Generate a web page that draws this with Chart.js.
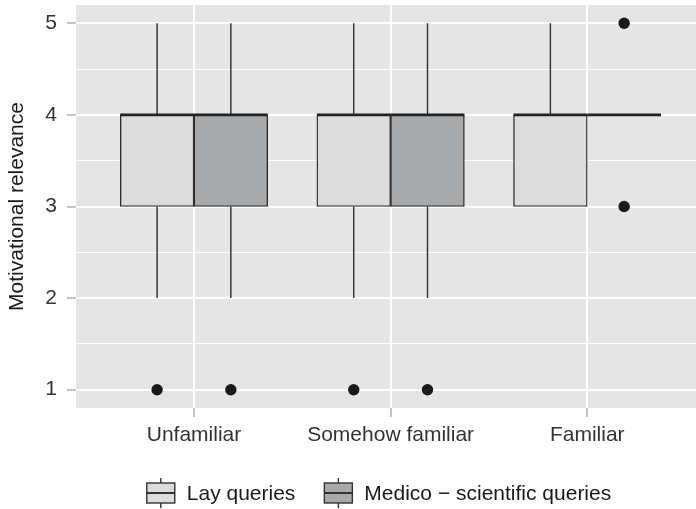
<!DOCTYPE html>
<html>
<head>
<meta charset="utf-8">
<title>Motivational relevance</title>
<script src="https://cdn.jsdelivr.net/npm/chart.js@4/dist/chart.umd.min.js"></script>
<style>
  body { margin: 0; background: #fff; }
  #wrap { width: 696px; height: 509px; position: relative; }
</style>
</head>
<body>
<div id="wrap"><canvas id="boxChart"></canvas></div>
<script>
// --- Data ---
const categories = ["Unfamiliar", "Somehow familiar", "Familiar"];
const groups = ["Lay queries", "Medico \u2212 scientific queries"];

// lay queries: whisker ends, quartiles, median, outliers
const layLow = [2, 2, 3];
const layQ1 = [3, 3, 3];
const layMedian = [4, 4, 4];
const layQ3 = [4, 4, 4];
const layHigh = [5, 5, 5];
const layOutliers = [[1], [1], []];

// medico-scientific queries
const medLow = [2, 2, 4];
const medQ1 = [3, 3, 4];
const medMedian = [4, 4, 4];
const medQ3 = [4, 4, 4];
const medHigh = [5, 5, 4];
const medOutliers = [[1], [1], [5, 3]];

const yTicks = [1, 2, 3, 4, 5];
const yMinorTicks = [1.5, 2.5, 3.5, 4.5];

const groupColors = ["#dcdcdd", "#a8a9ab"];
const dodge = 0.1875; // half of the dodge width (0.75 / 2 / 2)

// --- Builders for the datasets ---
function boxData(off, q1, q3) {
  return categories.map((c, i) => ({ x: i + 1 + off, y: [q1[i], q3[i]] }));
}

function whiskerData(off, low, q1, q3, high) {
  const pts = [];
  categories.forEach((c, i) => {
    const x = i + 1 + off;
    pts.push({ x: x, y: q3[i] }, { x: x, y: high[i] }, { x: x, y: null });
    pts.push({ x: x, y: q1[i] }, { x: x, y: low[i] }, { x: x, y: null });
  });
  return pts;
}

function medianData(off, med) {
  const pts = [];
  categories.forEach((c, i) => {
    const x = i + 1 + off;
    pts.push({ x: x - dodge, y: med[i] }, { x: x + dodge, y: med[i] }, { x: x, y: null });
  });
  return pts;
}

function outlierData(off, outs) {
  const pts = [];
  outs.forEach((list, i) => list.forEach((v) => pts.push({ x: i + 1 + off, y: v })));
  return pts;
}

// --- Plugins: panel background and boxplot legend ---
const panelBackground = {
  id: "panelBackground",
  beforeDraw(chart) {
    const { ctx, chartArea: a } = chart;
    ctx.save();
    ctx.fillStyle = "#e5e5e5";
    ctx.fillRect(a.left, a.top, a.right - a.left, a.bottom - a.top);
    ctx.restore();
  },
};

const boxLegend = {
  id: "boxLegend",
  afterDraw(chart) {
    const ctx = chart.ctx;
    const keyW = 28, keyH = 20, gap = 12, itemGap = 29;
    const cy = 493;
    ctx.save();
    ctx.font = '21px "Liberation Sans", Arial, sans-serif';
    const widths = groups.map((g) => keyW + gap + ctx.measureText(g).width);
    const total = widths.reduce((a, b) => a + b, 0) + itemGap * (groups.length - 1);
    let x = 379 - total / 2;
    groups.forEach((g, i) => {
      const top = cy - keyH / 2;
      ctx.strokeStyle = "#333";
      ctx.lineWidth = 1.4;
      // whisker stubs
      ctx.beginPath();
      ctx.moveTo(x + keyW / 2, top - 5);
      ctx.lineTo(x + keyW / 2, top);
      ctx.moveTo(x + keyW / 2, top + keyH);
      ctx.lineTo(x + keyW / 2, top + keyH + 5);
      ctx.stroke();
      // box
      ctx.fillStyle = groupColors[i];
      ctx.fillRect(x, top, keyW, keyH);
      ctx.strokeRect(x, top, keyW, keyH);
      // median
      ctx.lineWidth = 2;
      ctx.beginPath();
      ctx.moveTo(x, cy);
      ctx.lineTo(x + keyW, cy);
      ctx.stroke();
      // label
      ctx.fillStyle = "#1a1a1a";
      ctx.textBaseline = "middle";
      ctx.textAlign = "left";
      ctx.fillText(g, x + keyW + gap, cy + 1);
      x += widths[i] + itemGap;
    });
    ctx.restore();
  },
};

// --- Chart ---
document.addEventListener("DOMContentLoaded", () => {
  const ctx = document.getElementById("boxChart");
  const font = { family: '"Liberation Sans", Arial, sans-serif', size: 21 };

  const boxBase = {
    type: "bar",
    borderColor: "#2e2e2e",
    borderWidth: 1.4,
    borderSkipped: false,
    grouped: false,
    barPercentage: 1,
    categoryPercentage: 1,
    order: 3,
  };
  const whiskerBase = {
    type: "line",
    borderColor: "#2e2e2e",
    borderWidth: 1.4,
    pointRadius: 0,
    spanGaps: false,
    order: 4,
  };
  const medianBase = {
    type: "line",
    borderColor: "#222222",
    borderWidth: 2.6,
    borderCapStyle: "butt",
    pointRadius: 0,
    spanGaps: false,
    order: 1,
  };
  const outlierBase = {
    type: "scatter",
    backgroundColor: "#1a1a1a",
    borderWidth: 0,
    pointRadius: 5.7,
    order: 0,
  };

  new Chart(ctx, {
    type: "bar",
    data: {
      datasets: [
        { ...boxBase, label: groups[0], data: boxData(-dodge, layQ1, layQ3), backgroundColor: groupColors[0] },
        { ...boxBase, label: groups[1], data: boxData(dodge, medQ1, medQ3), backgroundColor: groupColors[1] },
        { ...whiskerBase, label: groups[0] + " whiskers", data: whiskerData(-dodge, layLow, layQ1, layQ3, layHigh) },
        { ...whiskerBase, label: groups[1] + " whiskers", data: whiskerData(dodge, medLow, medQ1, medQ3, medHigh) },
        { ...medianBase, label: groups[0] + " median", data: medianData(-dodge, layMedian) },
        { ...medianBase, label: groups[1] + " median", data: medianData(dodge, medMedian) },
        { ...outlierBase, label: groups[0] + " outliers", data: outlierData(-dodge, layOutliers) },
        { ...outlierBase, label: groups[1] + " outliers", data: outlierData(dodge, medOutliers) },
      ],
    },
    options: {
      responsive: true,
      maintainAspectRatio: false,
      animation: false,
      layout: { autoPadding: false, padding: { top: 5, right: 0, bottom: 51, left: 0 } },
      plugins: {
        legend: { display: false },
        tooltip: { enabled: false },
      },
      scales: {
        x: {
          type: "linear",
          min: 0.4,
          max: 3.553,
          offset: false,
          afterBuildTicks: (axis) => {
            axis.ticks = categories.map((c, i) => ({ value: i + 1 }));
          },
          afterFit: (axis) => {
            axis.height = 50;
            axis.paddingLeft = 0;
            axis.paddingRight = 0;
          },
          ticks: {
            autoSkip: false,
            maxRotation: 0,
            padding: 6,
            color: "#333333",
            font: font,
            callback: (value) => categories[value - 1],
          },
          grid: {
            offset: false,
            color: "#ffffff",
            lineWidth: 2,
            tickColor: "#9a9a9a",
            tickWidth: 1.2,
            tickLength: 9,
          },
          border: { display: false },
        },
        y: {
          type: "linear",
          min: 0.8,
          max: 5.2,
          afterBuildTicks: (axis) => {
            axis.ticks = yTicks.concat(yMinorTicks).sort((a, b) => a - b).map((v) => ({ value: v }));
          },
          afterFit: (axis) => {
            axis.width = 76;
            axis.paddingTop = 0;
            axis.paddingBottom = 0;
          },
          ticks: {
            autoSkip: false,
            padding: 10,
            color: "#333333",
            font: font,
            callback: (value) => (yTicks.includes(value) ? String(value) : ""),
          },
          grid: {
            color: "#ffffff",
            lineWidth: (c) => (yTicks.includes(c.tick.value) ? 2 : 1),
            tickColor: (c) => (yTicks.includes(c.tick.value) ? "#9a9a9a" : "rgba(0,0,0,0)"),
            tickWidth: 1.2,
            tickLength: 9,
          },
          border: { display: false },
          title: {
            display: true,
            text: "Motivational relevance",
            color: "#1a1a1a",
            font: font,
            padding: { top: 5, bottom: 4 },
          },
        },
      },
    },
    plugins: [panelBackground, boxLegend],
  });
});
</script>
</body>
</html>
